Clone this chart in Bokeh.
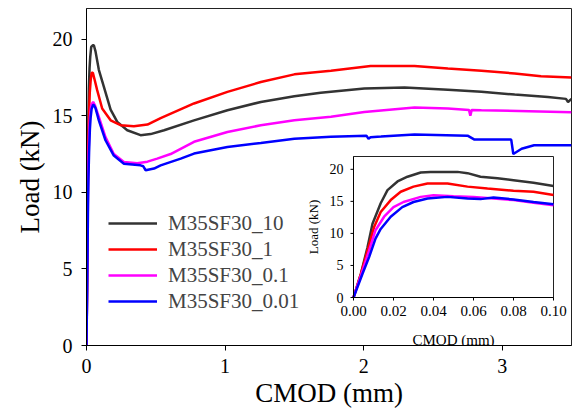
import math
from bokeh.plotting import figure
from bokeh.models import Legend, LegendItem, FixedTicker, Range1d
from bokeh.core.properties import value
from bokeh.embed import file_html
from bokeh.resources import INLINE

# ---------------- data (main chart) ----------------
series_names = ["M35SF30_10", "M35SF30_1", "M35SF30_0.1", "M35SF30_0.01"]
series_colors = ["#333333", "#ff0000", "#ff00ff", "#0000ff"]

black_x = [0, 0.004, 0.007, 0.0095, 0.0136, 0.017, 0.022, 0.027, 0.034, 0.045, 0.053, 0.065, 0.089,
           0.125, 0.174, 0.222, 0.294, 0.39, 0.463, 0.56, 0.776, 1.017, 1.258, 1.5, 1.69, 2.005,
           2.295, 2.608, 2.85, 3.09, 3.33, 3.46, 3.475, 3.5]
black_y = [0, 3.7, 7.85, 11.5, 14.7, 16.75, 18.1, 18.85, 19.5, 19.6, 19.6, 19.2, 18.0,
           16.9, 15.4, 14.6, 14.05, 13.73, 13.8, 14.05, 14.7, 15.36, 15.9, 16.27, 16.5, 16.78,
           16.84, 16.7, 16.56, 16.38, 16.23, 16.1, 15.9, 16.1]

red_x = [0, 0.0037, 0.007, 0.0103, 0.0136, 0.0186, 0.0236, 0.03, 0.037, 0.046, 0.06, 0.077,
         0.113, 0.174, 0.246, 0.342, 0.44, 0.535, 0.776, 1.017, 1.258, 1.5, 1.764, 2.05, 2.367,
         2.608, 2.85, 3.09, 3.28, 3.5]
red_y = [0, 3.7, 7.3, 11.0, 13.35, 15.2, 16.5, 17.3, 17.8, 17.8, 17.3, 16.67,
         15.47, 14.7, 14.38, 14.31, 14.42, 14.85, 15.8, 16.56, 17.2, 17.7, 17.93, 18.24, 18.24,
         18.08, 17.93, 17.76, 17.58, 17.5]

magenta_x = [0, 0.0045, 0.0078, 0.011, 0.0153, 0.02, 0.025, 0.034, 0.048, 0.06, 0.089, 0.137,
             0.197, 0.27, 0.366, 0.44, 0.51, 0.607, 0.776, 1.017, 1.258, 1.5, 1.764, 2.005, 2.367,
             2.608, 2.76, 2.77, 2.78, 2.85, 3.5]
magenta_y = [0, 4.2, 7.3, 10.5, 12.6, 14.1, 14.9, 15.7, 15.9, 15.7, 14.92, 13.6,
             12.5, 11.98, 11.9, 12.0, 12.2, 12.5, 13.3, 13.94, 14.38, 14.7, 14.93, 15.25, 15.54,
             15.47, 15.38, 15.0, 15.38, 15.36, 15.23]

blue_x = [0, 0.0045, 0.0078, 0.011, 0.0136, 0.0186, 0.0244, 0.03, 0.037, 0.047, 0.053, 0.065,
          0.089, 0.137, 0.197, 0.27, 0.39, 0.41, 0.427, 0.487, 0.535, 0.68, 0.776, 1.017, 1.258,
          1.5, 1.764, 2.02, 2.035, 2.05, 2.125, 2.367, 2.75, 2.8, 3.065, 3.08, 3.14, 3.23, 3.5]
blue_y = [0, 3.7, 6.3, 9.2, 10.7, 12.6, 14.1, 14.9, 15.45, 15.7, 15.7, 15.5,
          14.7, 13.4, 12.4, 11.87, 11.76, 11.7, 11.44, 11.55, 11.76, 12.2, 12.53, 12.96, 13.22,
          13.5, 13.62, 13.7, 13.5, 13.6, 13.64, 13.77, 13.7, 13.44, 13.44, 12.5, 12.84, 13.07, 13.07]

main_x_ticks = [0, 1, 2, 3]
main_y_ticks = [0, 5, 10, 15, 20]

# ---------------- data (inset, first 0.1 mm) ----------------
in_black_x = [0, 0.0037, 0.007, 0.0095, 0.0136, 0.017, 0.022, 0.027, 0.0336, 0.0385, 0.052, 0.057,
              0.0635, 0.072, 0.080, 0.090, 0.100]
in_black_y = [0, 3.7, 7.85, 11.5, 14.7, 16.75, 18.1, 18.85, 19.5, 19.6, 19.6, 19.4,
              18.85, 18.6, 18.3, 17.9, 17.4]
in_red_x = [0, 0.0037, 0.007, 0.0103, 0.0136, 0.0186, 0.0236, 0.030, 0.037, 0.047, 0.057, 0.067,
            0.080, 0.090, 0.100]
in_red_y = [0, 3.7, 7.3, 11.0, 13.35, 15.2, 16.5, 17.3, 17.8, 17.8, 17.3, 17.0,
            16.65, 16.5, 16.0]
in_magenta_x = [0, 0.0045, 0.0078, 0.011, 0.0153, 0.020, 0.025, 0.0336, 0.040, 0.050, 0.060,
                0.070, 0.080, 0.090, 0.100]
in_magenta_y = [0, 4.2, 7.3, 10.5, 12.6, 14.1, 14.9, 15.7, 15.95, 15.8, 15.7,
                15.45, 15.2, 14.8, 14.4]
in_blue_x = [0, 0.0045, 0.0078, 0.011, 0.0136, 0.0186, 0.0244, 0.030, 0.037, 0.047, 0.057,
             0.0635, 0.070, 0.080, 0.090, 0.100]
in_blue_y = [0, 3.7, 6.3, 9.2, 10.7, 12.6, 14.1, 14.9, 15.45, 15.7, 15.45,
             15.35, 15.6, 15.3, 14.9, 14.55]

inset_x_ticks = [0, 0.02, 0.04, 0.06, 0.08, 0.10]
inset_x_labels = ["0.00", "0.02", "0.04", "0.06", "0.08", "0.10"]
inset_y_ticks = [0, 5, 10, 15, 20]
inset_y_labels = ["0", "5", "10", "15", "20"]

FONT = "Liberation Serif"

# ---------------- layout constants (pixels) ----------------
W, H = 574, 416
ML, MR, MT, MB = 86, 571, 8, 345          # main frame
IL, IR, IT, IB = 353, 553, 156, 297       # inset frame
IX0, IX1, IY0, IY1 = 0.0, 0.1, 0.0, 22.0  # inset data limits

sx = (IR - IL) / (IX1 - IX0)
sy = (IB - IT) / (IY1 - IY0)
ix_range = Range1d(IX0 - (IL - ML) / sx, IX1 + (MR - IR) / sx)
iy_range = Range1d(IY0 - (MB - IB) / sy, IY1 + (IT - MT) / sy)

# ---------------- main figure ----------------
p = figure(width=W, height=H, output_backend="svg", toolbar_location=None,
           x_range=Range1d(0, 3.5), y_range=Range1d(0, 22),
           min_border_left=ML, min_border_right=W - MR, min_border_top=MT,
           min_border_bottom=H - MB)
p.xgrid.visible = False
p.ygrid.visible = False
p.outline_line_color = "#222222"
p.outline_line_width = 1
p.background_fill_color = "white"
p.border_fill_color = "white"
p.extra_x_ranges = {"ix": ix_range}
p.extra_y_ranges = {"iy": iy_range}

main_data = [(black_x, black_y), (red_x, red_y), (magenta_x, magenta_y), (blue_x, blue_y)]
items = []
for (xs, ys), name, col in zip(main_data, series_names, series_colors):
    r = p.line(xs, ys, line_color=col, line_width=2.5)
    items.append(LegendItem(label=name, renderers=[r]))

for ax in (p.xaxis[0], p.yaxis[0]):
    ax.axis_line_color = "black"
    ax.major_tick_line_color = "black"
    ax.major_tick_out = 5
    ax.major_tick_in = 0
    ax.minor_tick_line_color = None
    ax.major_label_text_font = FONT
    ax.major_label_text_font_size = "20px"
    ax.major_label_text_color = "black"
    ax.axis_label_text_font = FONT
    ax.axis_label_text_font_size = "27px"
    ax.axis_label_text_font_style = "normal"
    ax.axis_label_text_color = "black"

p.xaxis.ticker = FixedTicker(ticks=main_x_ticks)
p.yaxis.ticker = FixedTicker(ticks=main_y_ticks)
p.xaxis.axis_label = "CMOD (mm)"
p.yaxis.axis_label = "Load (kN)"
p.xaxis.major_label_standoff = 8
p.xaxis.axis_label_standoff = 2
p.yaxis.major_label_standoff = 9
p.yaxis.axis_label_standoff = 5

legend = Legend(items=items, location=(22, 31), padding=0, margin=0,
                glyph_width=49, glyph_height=26, label_height=26, spacing=0,
                label_standoff=11, border_line_alpha=0, background_fill_alpha=0,
                label_text_font=FONT, label_text_font_size="21px")
p.add_layout(legend)

# ---------------- inset (drawn in its own ranges) ----------------
kw = dict(x_range_name="ix", y_range_name="iy")
p.quad(left=IX0, right=IX1, bottom=IY0, top=IY1, fill_color="white",
       line_color="#222222", line_width=1, **kw)

inset_data = [(in_black_x, in_black_y), (in_red_x, in_red_y),
              (in_magenta_x, in_magenta_y), (in_blue_x, in_blue_y)]
for (xs, ys), col in zip(inset_data, series_colors):
    p.line(xs, ys, line_color=col, line_width=2.5, **kw)

# axis lines and ticks of the inset
p.segment(x0=[IX0, IX0], y0=[IY0, IY0], x1=[IX1, IX0], y1=[IY0, IY1],
          line_color="black", line_width=1, **kw)
tick_len = 3
p.segment(x0=inset_x_ticks, y0=[IY0] * len(inset_x_ticks), x1=inset_x_ticks,
          y1=[IY0 - tick_len / sy] * len(inset_x_ticks), line_color="black", line_width=1, **kw)
p.segment(x0=[IX0] * len(inset_y_ticks), y0=inset_y_ticks, x1=[IX0 - tick_len / sx] * len(inset_y_ticks),
          y1=inset_y_ticks, line_color="black", line_width=1, **kw)

p.text(x=inset_x_ticks, y=[IY0] * len(inset_x_ticks), text=inset_x_labels,
       text_font=value(FONT), text_font_size="15px", text_color="black",
       text_align="center", text_baseline="top", y_offset=8, **kw)
p.text(x=[IX0] * len(inset_y_ticks), y=inset_y_ticks, text=inset_y_labels,
       text_font=value(FONT), text_font_size="14px", text_color="black",
       text_align="right", text_baseline="middle", x_offset=-10, **kw)
p.text(x=[(IX0 + IX1) / 2], y=[IY0], text=["CMOD (mm)"],
       text_font=value(FONT), text_font_size="15px", text_color="black",
       text_align="center", text_baseline="alphabetic", y_offset=42, **kw)
p.text(x=[IX0], y=[(IY0 + IY1) / 2], text=["Load (kN)"], angle=math.pi / 2,
       text_font=value(FONT), text_font_size="13px", text_color="black",
       text_align="center", text_baseline="middle", x_offset=-40, **kw)

open("out.html", "w").write(file_html(p, INLINE))
